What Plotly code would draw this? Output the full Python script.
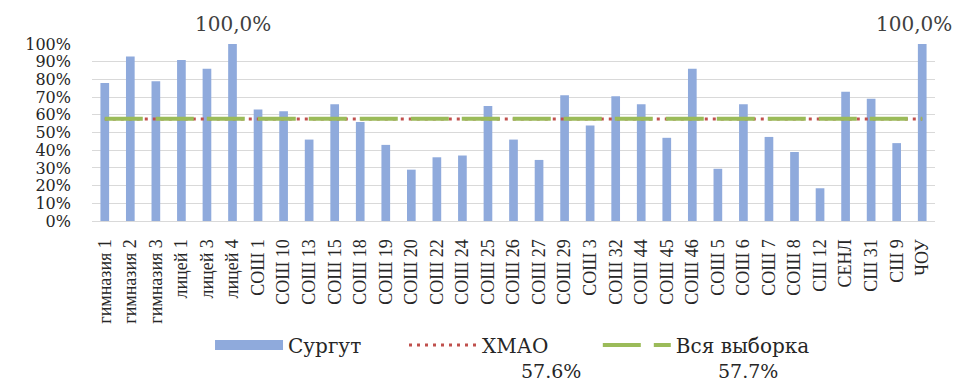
import plotly.graph_objects as go

# Schools and their shares
schools = [
    "гимназия 1", "гимназия 2", "гимназия 3", "лицей 1", "лицей 3", "лицей 4",
    "СОШ 1", "СОШ 10", "СОШ 13", "СОШ 15", "СОШ 18", "СОШ 19", "СОШ 20",
    "СОШ 22", "СОШ 24", "СОШ 25", "СОШ 26", "СОШ 27", "СОШ 29", "СОШ 3",
    "СОШ 32", "СОШ 44", "СОШ 45", "СОШ 46", "СОШ 5", "СОШ 6", "СОШ 7",
    "СОШ 8", "СШ 12", "СЕНЛ", "СШ 31", "СШ 9", "ЧОУ",
]
surgut = [
    0.78, 0.93, 0.79, 0.91, 0.86, 1.00,
    0.63, 0.62, 0.46, 0.66, 0.56, 0.43, 0.29,
    0.36, 0.37, 0.65, 0.46, 0.345, 0.71, 0.54,
    0.705, 0.66, 0.47, 0.86, 0.295, 0.66, 0.475,
    0.39, 0.185, 0.73, 0.69, 0.44, 1.00,
]
hmao_value = 0.576
sample_value = 0.577

SERIF = "DejaVu Serif"
LABEL_SERIF = "Liberation Serif"
TEXT = "#262626"
BLUE = "#8FAADC"

fig = go.Figure()

fig.add_trace(go.Bar(
    x=schools, y=surgut, name="Сургут", legendgroup="surgut",
    marker=dict(color=BLUE, line=dict(width=0)),
    width=0.34, showlegend=False,
))
# wide legend key for the bar series
fig.add_trace(go.Scatter(
    x=[None], y=[None], name="Сургут", legendgroup="surgut",
    mode="lines", line=dict(color=BLUE, width=11),
    hoverinfo="skip", legend="legend",
))
fig.add_trace(go.Scatter(
    x=schools, y=[hmao_value] * len(schools), name="ХМАО",
    mode="lines", legend="legend",
    line=dict(color="#C0504D", width=3, dash="3px,5px"),
))
fig.add_trace(go.Scatter(
    x=schools, y=[sample_value] * len(schools), name="Вся выборка",
    mode="lines", legend="legend2",
    line=dict(color="#9BBB59", width=4, dash="38px,13px"),
))

# Value labels on the full bars
for name, v in zip(schools, surgut):
    if v >= 1.0:
        fig.add_annotation(
            x=name, y=v, text=f"{v * 100:.1f}%".replace(".", ","),
            showarrow=False, yanchor="bottom", yshift=6,
            xshift=-8 if name == schools[-1] else 0,
            font=dict(family=SERIF, size=20, color="#404040"),
        )

# Overall averages printed under the legend
for xp, v in [(0.545, hmao_value), (0.778, sample_value)]:
    fig.add_annotation(
        xref="paper", yref="paper", x=xp, y=-0.92,
        text=f"{v * 100:.1f}%", showarrow=False,
        xanchor="center", yanchor="bottom",
        font=dict(family=SERIF, size=19, color=TEXT),
    )

legend_common = dict(
    orientation="h", xanchor="left", y=-0.70, yanchor="middle",
    font=dict(family=SERIF, size=20, color=TEXT),
    itemwidth=68, traceorder="normal", bgcolor="rgba(0,0,0,0)",
)

fig.update_layout(
    width=955, height=385,
    margin=dict(l=92, r=20, t=44, b=164, autoexpand=False),
    paper_bgcolor="white", plot_bgcolor="white",
    bargap=0.66,
    showlegend=True,
    legend=dict(x=0.14, entrywidth=111, **legend_common),
    legend2=dict(x=0.6, **legend_common),
    font=dict(family=SERIF, color=TEXT),
)
fig.update_xaxes(
    type="category", range=[-0.5, len(schools) - 0.5],
    tickangle=-90, tickfont=dict(family=LABEL_SERIF, size=18, color=TEXT),
    showgrid=False, showline=True, linecolor="#D9D9D9", linewidth=1,
    ticks="", ticklabelstandoff=10,
)
fig.update_yaxes(
    range=[0, 1.0], dtick=0.1, tickformat=".0%",
    tickfont=dict(family=SERIF, size=16, color=TEXT),
    showgrid=True, gridcolor="#D9D9D9", gridwidth=1,
    zeroline=False, ticks="", ticklabelstandoff=20,
)

fig.write_html("out.html")
